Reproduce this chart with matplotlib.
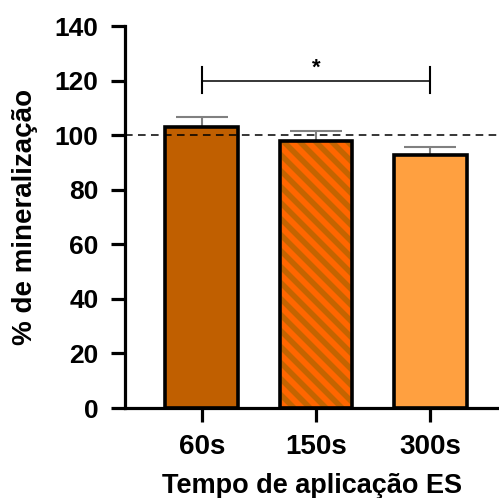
import matplotlib
matplotlib.use('Agg')
from matplotlib import pyplot as plt
from matplotlib.collections import LineCollection
from matplotlib.transforms import IdentityTransform

plt.rcParams['font.family'] = 'Liberation Sans'
plt.rcParams['font.weight'] = 'bold'

categorias = ['60s', '150s', '300s']
medias = [103.0, 98.0, 92.6]
erros = [3.6, 3.5, 3.1]
cores = ['#C05F00', '#FF6600', '#FFA040']
listrado = [False, True, False]

fig = plt.figure(figsize=(4.99, 4.98), dpi=100)
ax = fig.add_axes([125/499, 90/498, 374/499, 382/498])

x = list(range(len(categorias)))
for i in x:
    fundo = ax.bar(i, medias[i], width=0.64, color=cores[i], linewidth=0, zorder=2)[0]
    if listrado[i]:
        # listras diagonais (\) em pixels, recortadas pela barra
        passo = 16
        linhas = [[(0, c), (1000, c - 1000)] for c in range(0, 1600, passo)]
        lc = LineCollection(linhas, colors='#C46400', linewidths=4.0,
                            transform=IdentityTransform(), zorder=2.5)
        ax.add_collection(lc, autolim=False)
        lc.set_clip_path(fundo)
    ax.bar(i, medias[i], width=0.64, fill=False, edgecolor='black',
           linewidth=2.6, zorder=3)

ax.errorbar(x, medias, yerr=[[0, 0, 0], erros], fmt='none', ecolor='#808080',
            elinewidth=1.5, capsize=18.5, capthick=1.5, zorder=1)

ax.axhline(100, color='black', lw=1.1, ls=(0, (5, 3.5)), zorder=4)

# significancia 60s x 300s
ax.plot([0, 2], [120, 120], color='black', lw=1.1)
ax.plot([0, 0], [115.5, 125], color='black', lw=1.5)
ax.plot([2, 2], [115.5, 125], color='black', lw=1.5)
ax.text(1, 120.8, '*', ha='center', va='bottom', fontsize=16)

ax.set_xlim(-0.675, 2.605)
ax.set_ylim(0, 140)
ax.set_yticks(range(0, 141, 20))
ax.set_xticks(x)
ax.set_xticklabels(categorias)
ax.spines['top'].set_visible(False)
ax.spines['right'].set_visible(False)
ax.spines['left'].set_linewidth(2.3)
ax.spines['bottom'].set_linewidth(2.3)
ax.tick_params(axis='both', length=10, width=2.3)
ax.tick_params(axis='y', pad=9, labelsize=19)
ax.tick_params(axis='x', pad=9, labelsize=20)

ax.set_ylabel('% de mineralização', fontsize=20, fontweight='bold', labelpad=12)
ax.set_xlabel('Tempo de aplicação ES', fontsize=19.5, fontweight='bold', labelpad=9)

plt.savefig('out.png', dpi=100)
